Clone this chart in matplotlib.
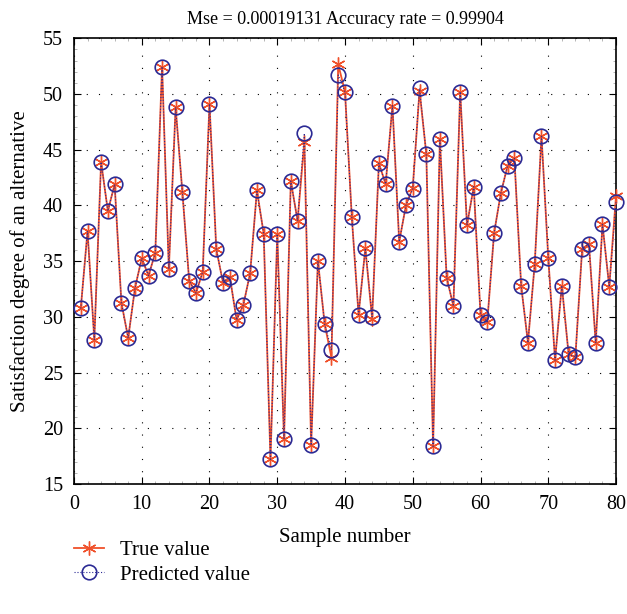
import numpy as np
import matplotlib
matplotlib.use('Agg')
import matplotlib.pyplot as plt
from matplotlib.ticker import MultipleLocator

plt.rcParams['font.family'] = ['Liberation Serif', 'DejaVu Serif']

samples = np.arange(1, 81)
true_value = [30.75, 37.7, 27.96, 43.9, 39.5, 41.9, 31.26, 28.1, 32.57, 35.27,
              33.7, 35.75, 52.46, 34.3, 48.8, 41.17, 33.26, 32.13, 34.04, 49.1,
              36.08, 33.05, 33.6, 29.73, 31.08, 33.92, 41.35, 37.46, 17.22, 37.43,
              19.01, 42.19, 38.62, 45.72, 18.47, 35.03, 29.34, 26.35, 52.66, 50.18,
              38.98, 30.21, 36.14, 29.85, 43.77, 41.92, 48.95, 36.74, 40.03, 41.6,
              50.3, 44.61, 18.38, 45.96, 33.53, 30.96, 50.21, 38.23, 41.68, 30.21,
              29.55, 37.51, 41.11, 43.56, 44.22, 32.78, 27.69, 34.76, 46.2, 35.3,
              26.11, 32.81, 26.65, 26.41, 36.11, 36.56, 27.66, 38.29, 32.7, 40.87]
predicted_value = [30.75, 37.7, 27.96, 43.9, 39.5, 41.9, 31.26, 28.1, 32.57, 35.27,
                   33.7, 35.75, 52.46, 34.3, 48.8, 41.17, 33.26, 32.13, 34.04, 49.1,
                   36.08, 33.05, 33.6, 29.73, 31.08, 33.92, 41.35, 37.46, 17.22, 37.43,
                   19.01, 42.19, 38.62, 46.47, 18.47, 35.03, 29.34, 27.07, 51.7, 50.18,
                   38.98, 30.21, 36.14, 30.0, 43.77, 41.92, 48.95, 36.74, 40.03, 41.47,
                   50.5, 44.61, 18.38, 45.96, 33.53, 30.96, 50.21, 38.23, 41.68, 30.21,
                   29.55, 37.51, 41.11, 43.56, 44.22, 32.78, 27.69, 34.76, 46.2, 35.3,
                   26.11, 32.81, 26.65, 26.41, 36.11, 36.56, 27.66, 38.29, 32.7, 40.3]

fig = plt.figure(figsize=(6.27, 6.14), dpi=100)
ax = fig.add_axes([0.118, 0.2117, 0.8645, 0.726])

# matlab style asterisk marker
ax.plot(samples, true_value, color='#f0502a', lw=1.3, marker=(6, 2, 0), ms=10,
        mew=1.0, label='True value', clip_on=False, zorder=3)
ax.plot(samples, predicted_value, color='#2b2a94', lw=0.8, ls=':', marker='o',
        ms=10.5, mfc='none', mew=1.2, label='Predicted value', clip_on=False, zorder=4)

ax.set_xlim(0, 80)
ax.set_ylim(15, 55)
ax.xaxis.set_major_locator(MultipleLocator(10))
ax.yaxis.set_major_locator(MultipleLocator(5))
ax.xaxis.set_minor_locator(MultipleLocator(2))
ax.yaxis.set_minor_locator(MultipleLocator(1))
ax.tick_params(which='both', direction='in', top=True, right=True, labelsize=14.5)
ax.tick_params(which='major', length=5, pad=8)
ax.tick_params(which='minor', length=2, color='#aaaaaa')
ax.grid(True, which='major', color='black', ls=(0, (1, 10)), lw=0.8)
for s in ax.spines.values():
    s.set_linewidth(1.2)

ax.set_title('Mse = 0.00019131 Accuracy rate = 0.99904', fontsize=13, pad=10)
ax.set_xlabel('Sample number', fontsize=15, labelpad=10)
ax.set_ylabel('Satisfaction degree of an alternative', fontsize=15, labelpad=9)

fig.legend(loc='upper left', bbox_to_anchor=(0.118, 0.12), frameon=False,
           fontsize=15, handlelength=1.45, handletextpad=0.75, labelspacing=0.25,
           borderaxespad=0, borderpad=0)

fig.savefig('out.png', dpi=100)
